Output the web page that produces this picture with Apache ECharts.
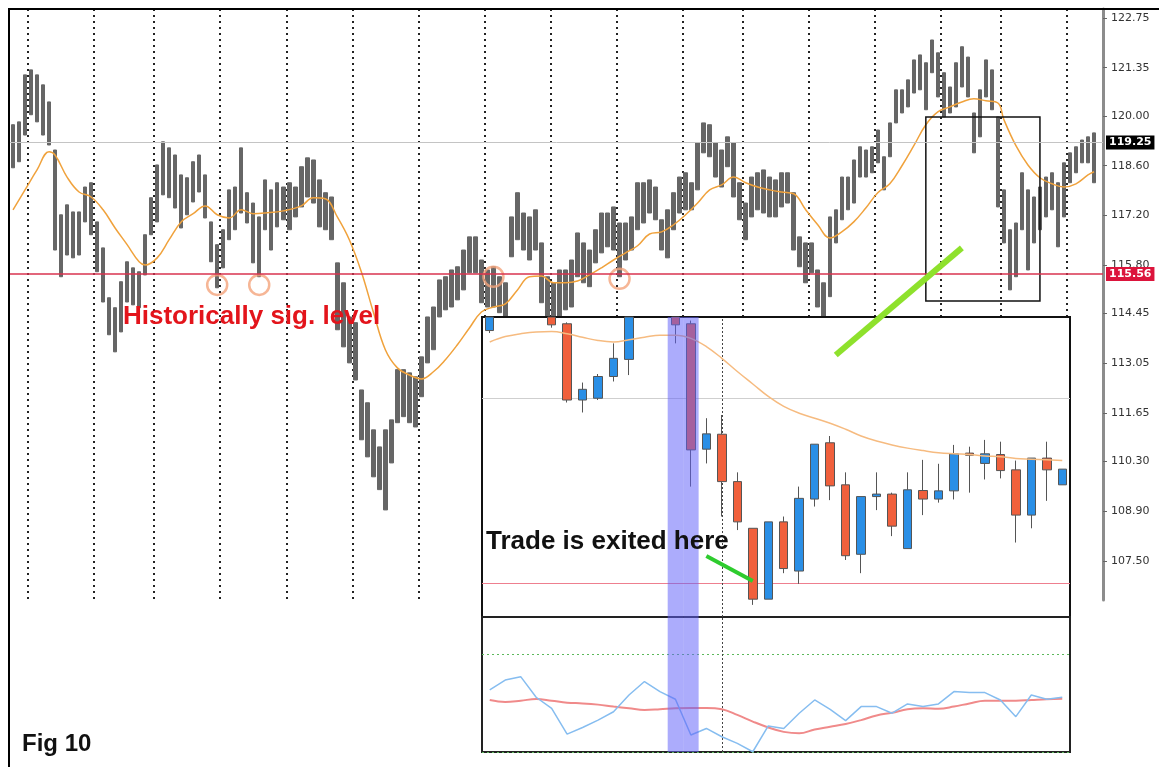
<!DOCTYPE html>
<html>
<head>
<meta charset="utf-8">
<script src="https://cdn.jsdelivr.net/npm/echarts@6/dist/echarts.min.js"></script>
<style>
  html, body { margin: 0; padding: 0; background: #fff; }
  #chart { width: 1159px; height: 767px; }
</style>
</head>
<body>
<div id="chart"></div>
<script>
// ---- main chart (grey bars): high / low per bar ----
const mainHigh = [
  119.75, 119.83, 121.15, 121.29, 121.15, 120.87, 120.39, 119.04, 117.22, 117.50,
  117.30, 117.30, 118.00, 118.12, 117.02, 116.29, 114.89, 114.61, 115.34, 115.90,
  115.73, 115.62, 116.66, 117.70, 118.62, 119.27, 119.10, 118.90, 118.34, 118.26,
  118.71, 118.90, 118.34, 117.02, 116.38, 116.80, 117.92, 118.00, 119.10, 117.84,
  117.55, 117.16, 118.20, 117.92, 118.12, 118.00, 118.12, 118.00, 118.57, 118.82,
  118.76, 118.20, 117.84, 117.72, 115.87, 115.31, 114.35, 114.19, 112.30, 111.94,
  111.18, 110.70, 111.18, 111.46, 112.87, 112.87, 112.78, 112.67, 113.23, 114.35,
  114.63, 115.39, 115.48, 115.67, 115.76, 116.23, 116.60, 116.60, 115.95, 115.67,
  115.76, 115.48, 115.31, 117.16, 117.84, 117.27, 117.16, 117.36, 116.43, 115.48,
  115.31, 115.67, 115.67, 115.95, 116.71, 116.43, 116.23, 116.80, 117.27, 117.27,
  117.44, 116.99, 116.99, 117.16, 118.12, 118.12, 118.20, 118.00, 117.08, 117.36,
  117.84, 118.28, 118.40, 118.12, 119.24, 119.80, 119.75, 119.24, 119.04, 119.41,
  119.24, 118.12, 117.55, 118.28, 118.40, 118.48, 118.28, 118.20, 118.40, 118.40,
  117.84, 116.60, 116.43, 116.43, 115.67, 115.31, 117.16, 117.36, 118.28, 118.28,
  118.76, 119.13, 119.04, 119.13, 119.60, 118.85, 119.80, 120.73, 120.73, 121.01,
  121.57, 121.71, 121.49, 122.13, 121.77, 121.21, 120.81, 121.49, 121.94, 121.65,
  120.08, 120.73, 121.57, 121.29, 119.97, 117.92, 116.80, 116.99, 118.40, 117.92,
  117.72, 118.00, 118.28, 118.40, 118.12, 118.68, 118.96, 119.13, 119.32, 119.41,
  119.52
];
const mainLow = [
  118.54, 118.71, 119.46, 120.03, 119.83, 119.46, 119.18, 116.23, 115.48, 116.09,
  116.01, 116.09, 117.02, 116.66, 115.62, 114.77, 113.85, 113.37, 113.93, 114.77,
  114.69, 114.61, 115.53, 116.66, 117.02, 117.78, 117.70, 117.41, 116.85, 117.22,
  117.58, 117.86, 117.13, 115.90, 115.17, 115.73, 116.52, 116.80, 117.27, 116.99,
  115.87, 115.48, 116.80, 116.23, 116.88, 117.08, 116.80, 117.16, 117.44, 117.72,
  117.55, 116.88, 116.80, 116.52, 113.99, 113.51, 113.06, 112.58, 110.90, 110.42,
  109.86, 109.50, 108.93, 110.25, 111.38, 111.55, 111.38, 111.26, 112.11, 113.06,
  113.43, 114.35, 114.55, 114.63, 114.83, 115.11, 115.59, 115.59, 114.75, 114.63,
  114.63, 114.47, 114.35, 116.04, 116.52, 116.23, 115.95, 116.23, 114.75, 114.19,
  114.19, 114.35, 114.55, 114.63, 115.48, 115.31, 115.20, 115.87, 116.15, 116.32,
  116.23, 115.48, 115.95, 116.23, 116.80, 116.99, 117.27, 117.08, 116.23, 116.01,
  116.80, 117.27, 117.36, 117.36, 117.92, 118.96, 118.85, 118.28, 118.00, 118.57,
  117.72, 117.08, 116.52, 117.16, 117.36, 117.27, 117.16, 117.16, 117.44, 117.55,
  116.23, 115.76, 115.31, 115.59, 114.63, 114.35, 114.92, 116.43, 117.08, 117.36,
  117.55, 118.28, 118.28, 118.40, 118.68, 117.92, 118.85, 119.80, 120.08, 120.25,
  120.64, 120.73, 120.17, 121.21, 120.53, 119.97, 120.08, 120.25, 120.81, 120.53,
  118.96, 119.41, 120.53, 120.17, 117.44, 116.43, 115.11, 115.48, 116.80, 115.67,
  116.43, 116.80, 117.16, 117.36, 116.32, 117.16, 118.12, 118.40, 118.68, 118.68,
  118.12
];
// moving average on the main chart: [bar index, value]
const mainMA = [
  [0, 117.36], [2, 117.92], [4, 118.48], [6, 118.99], [7, 118.90], [9, 118.28], [11, 117.86],
  [13, 117.72], [15, 117.36], [17, 116.85], [19, 116.38], [21, 115.90], [22, 115.81], [24, 116.01],
  [26, 116.52], [28, 117.02], [30, 117.25], [32, 117.47], [34, 117.22], [36, 117.13], [38, 117.36],
  [40, 117.25], [42, 117.27], [45, 117.33], [48, 117.47], [50, 117.70], [52, 117.67], [54, 117.16],
  [56, 116.52], [58, 115.62], [60, 114.49], [62, 113.43], [64, 112.92], [66, 112.72], [68, 112.61],
  [70, 112.81], [72, 113.15], [74, 113.57], [76, 114.04], [78, 114.49], [80, 114.63], [82, 114.72],
  [84, 115.11], [86, 115.48], [88, 115.50], [90, 115.31], [92, 115.31], [94, 115.36], [96, 115.53],
  [98, 115.73], [100, 115.95], [102, 116.15], [104, 116.35], [106, 116.68], [108, 116.74],
  [110, 116.94], [112, 117.22], [114, 117.55], [116, 117.92], [118, 118.06], [120, 118.28],
  [122, 118.12], [124, 118.00], [126, 117.92], [128, 117.86], [130, 117.81], [132, 117.36],
  [134, 116.94], [136, 116.57], [138, 116.74], [140, 117.02], [142, 117.41], [144, 117.84],
  [146, 118.09], [148, 118.59], [150, 119.16], [152, 119.75], [154, 120.11], [156, 120.25],
  [158, 120.39], [160, 120.48], [162, 120.42], [164, 120.36], [165, 119.89], [167, 119.16],
  [169, 118.62], [171, 118.26], [173, 118.09], [175, 118.00], [177, 118.09], [179, 118.34],
  [180, 118.43]
];
const yTicks = [107.50, 108.90, 110.30, 111.65, 113.05, 114.45, 115.80, 117.20, 118.60, 120.00, 121.35, 122.75];
const sessionBreaks = [3, 14, 24, 35, 46, 57, 68, 79, 90, 101, 112, 122, 133, 144, 155, 165, 176];
const lastPrice = 119.25;
const keyLevel = 115.56;
const touches = [[34, 115.25], [41, 115.25], [80, 115.48], [101, 115.42]];
const boxFrom = [152, 119.97];
const boxTo = [171, 114.80];
const arrowFrom = [137, 113.28];
const arrowTo = [158, 116.29];

// ---- inset: candles [open, close, low, high]; '-' = above the panel ----
const insetCandles = [
  [113.97, 114.35, 113.90, 114.35], '-', '-', '-',
  [114.35, 114.13, 114.05, 114.35],
  [114.16, 112.02, 111.95, 114.20],
  [112.02, 112.32, 111.67, 112.51],
  [112.07, 112.68, 112.02, 112.75],
  [112.68, 113.19, 112.54, 113.61],
  [113.16, 114.35, 112.72, 114.35], '-', '-',
  [114.35, 114.13, 113.61, 114.35],
  [114.16, 110.62, 109.59, 114.25],
  [110.64, 111.07, 110.24, 111.51],
  [111.06, 109.73, 108.75, 111.60],
  [109.73, 108.60, 108.37, 109.99],
  [108.42, 106.43, 106.27, 108.42],
  [106.43, 108.60, 106.43, 108.60],
  [108.60, 107.29, 107.16, 108.75],
  [107.22, 109.26, 106.86, 109.59],
  [109.24, 110.78, 109.03, 110.78],
  [110.82, 109.61, 109.21, 111.01],
  [109.64, 107.65, 107.53, 109.99],
  [107.69, 109.31, 107.16, 109.31],
  [109.31, 109.38, 108.93, 109.99],
  [109.38, 108.48, 108.20, 109.42],
  [107.85, 109.50, 107.85, 109.99],
  [109.48, 109.24, 108.79, 110.34],
  [109.24, 109.47, 109.14, 110.23],
  [109.47, 110.51, 109.23, 110.76],
  [110.53, 110.47, 109.42, 110.71],
  [110.24, 110.51, 109.79, 110.90],
  [110.49, 110.04, 109.82, 110.85],
  [110.06, 108.79, 108.02, 110.32],
  [108.79, 110.39, 108.42, 110.39],
  [110.39, 110.06, 109.19, 110.85],
  [109.64, 110.08, 109.64, 110.08]
];
const insetMA = [
  113.65, 113.80, 113.88, 113.93, 113.94, 113.88, 113.78, 113.69, 113.65, 113.71,
  113.78, 113.84, 113.84, 113.75, 113.52, 113.19, 112.82, 112.47, 112.12, 111.84,
  111.65, 111.51, 111.37, 111.20, 111.01, 110.87, 110.76, 110.67, 110.60, 110.54,
  110.51, 110.49, 110.45, 110.43, 110.38, 110.36, 110.34, 110.32
];
const insetGrey = 112.07;
const insetPink = 106.87;
const exitBar = 15;
const shadeBars = [12, 13];
const exitArrowFrom = [14, 107.64];
const exitArrowTo = [17, 106.94];
// oscillator pane
const oscFast = [
  55.3, 59.3, 60.7, 52.3, 47.8, 37.3, 40.0, 43.0, 46.4, 53.2,
  58.7, 54.6, 51.5, 36.9, 39.6, 36.2, 33.5, 30.1, 40.6, 39.6,
  45.8, 51.2, 47.4, 42.8, 48.5, 48.5, 45.8, 49.6, 48.5, 49.6,
  54.6, 54.2, 54.2, 51.2, 44.4, 53.2, 51.5, 52.3
];
const oscSlow = [
  51.2, 50.4, 50.9, 51.6, 50.9, 50.1, 49.8, 49.3, 48.5, 47.8,
  47.1, 47.4, 47.8, 47.9, 47.9, 47.4, 45.1, 42.4, 40.0, 38.2,
  37.6, 39.2, 40.3, 41.4, 43.0, 44.9, 46.0, 47.4, 47.8, 47.6,
  48.5, 49.8, 50.9, 50.9, 50.9, 51.2, 51.5, 51.7
];
const oscLevels = [70, 30];

const mainSlots = mainHigh.map((_, i) => i).concat([mainHigh.length]);
const insetSlots = insetCandles.map((_, i) => i);
const FONT = '"Liberation Sans", Arial, sans-serif';

const chart = echarts.init(document.getElementById('chart'));

const hidden = { show: false };

// shaded exit bars: full-width band over the whole pane height
function shadeItem(params, api) {
  const cs = params.coordSys;
  const x = api.coord([api.value(0), 0])[0];
  const w = api.size([1, 0])[0];
  return {
    type: 'rect',
    shape: { x: x - w / 2, y: cs.y, width: w, height: cs.height },
    style: { fill: 'rgba(96,96,250,0.52)' }
  };
}
function shadeSeries(xi, yi) {
  return {
    type: 'custom', xAxisIndex: xi, yAxisIndex: yi, z: 20, silent: true,
    renderItem: shadeItem,
    encode: { x: 0 },
    data: shadeBars.map(b => [b])
  };
}

chart.setOption({
  animation: false,
  backgroundColor: '#fff',
  grid: [
    { left: 10, top: 9, width: 1093, height: 591 },
    { left: 482, top: 317, width: 588, height: 300, show: true, backgroundColor: '#fff', borderColor: '#111', borderWidth: 2, z: 8 },
    { left: 482, top: 617, width: 588, height: 135, show: true, backgroundColor: '#fff', borderColor: '#222', borderWidth: 2, z: 8 }
  ],
  xAxis: [
    {
      type: 'category', gridIndex: 0, data: mainSlots,
      axisLine: hidden, axisTick: hidden, axisLabel: hidden,
      splitLine: { show: true, interval: i => sessionBreaks.includes(i), lineStyle: { color: '#222', width: 2, type: [2, 4] } }
    },
    { type: 'category', gridIndex: 1, data: insetSlots, show: false },
    { type: 'category', gridIndex: 2, data: insetSlots, show: false }
  ],
  yAxis: [
    {
      type: 'value', gridIndex: 0, position: 'right', min: 106.40, max: 123.00,
      axisLine: { show: true, lineStyle: { color: '#8c8c8c', width: 3 } },
      axisTick: { show: true, customValues: yTicks, length: 4, lineStyle: { color: '#666' } },
      axisLabel: { customValues: yTicks, formatter: v => v.toFixed(2), color: '#333', fontSize: 11, fontFamily: '"DejaVu Sans", sans-serif', margin: 8 },
      splitLine: hidden
    },
    { type: 'value', gridIndex: 1, min: 105.93, max: 114.35, show: false },
    { type: 'value', gridIndex: 2, min: 30, max: 85, show: false }
  ],
  series: [
    {
      name: 'price', type: 'candlestick', xAxisIndex: 0, yAxisIndex: 0, z: 2,
      barWidth: 4,
      data: mainHigh.map((h, i) => [h, mainLow[i], mainLow[i], h]),
      itemStyle: { color: '#666', color0: '#666', borderColor: '#666', borderColor0: '#666', borderWidth: 1 },
      markLine: {
        silent: true, symbol: 'none', z: 5,
        label: { position: 'end', distance: 3, color: '#fff', fontSize: 11, fontWeight: 'bold', fontFamily: '"DejaVu Sans", sans-serif', padding: [2, 3, 1, 3] },
        data: [
          { yAxis: lastPrice, lineStyle: { color: '#c4c4c4', width: 1, type: 'solid' }, label: { backgroundColor: '#000', formatter: lastPrice.toFixed(2) } },
          { yAxis: keyLevel, lineStyle: { color: '#d8334f', width: 1.5, type: 'solid' }, label: { backgroundColor: '#dc143c', formatter: keyLevel.toFixed(2) } }
        ]
      }
    },
    {
      name: 'ma', type: 'line', xAxisIndex: 0, yAxisIndex: 0, z: 3,
      data: mainMA, smooth: 0.4, symbol: 'none',
      lineStyle: { color: '#f0a23c', width: 1.5 },
      markArea: {
        silent: true, z: 4,
        itemStyle: { color: 'rgba(0,0,0,0)', borderColor: '#111', borderWidth: 1.5 },
        data: [[{ xAxis: boxFrom[0], yAxis: boxFrom[1] }, { xAxis: boxTo[0], yAxis: boxTo[1] }]]
      },
      markLine: {
        silent: true, symbol: 'none', z: 20,
        label: hidden,
        lineStyle: { color: '#8ee12c', width: 6, type: 'solid' },
        data: [[{ coord: arrowFrom }, { coord: arrowTo }]]
      }
    },
    {
      name: 'touches', type: 'scatter', xAxisIndex: 0, yAxisIndex: 0, z: 4,
      data: touches, symbol: 'circle', symbolSize: 20,
      itemStyle: { color: 'rgba(0,0,0,0)', borderColor: '#f4a47c', borderWidth: 2.5 }
    },
    // inset candles
    {
      name: 'inset', type: 'candlestick', xAxisIndex: 1, yAxisIndex: 1, z: 12,
      barWidth: 9,
      data: insetCandles,
      itemStyle: { color: '#2a8fe6', color0: '#f0603c', borderColor: '#555', borderColor0: '#555', borderWidth: 1 },
      markLine: {
        silent: true, symbol: 'none', z: 21, label: hidden,
        lineStyle: { color: '#2ecc2e', width: 4, type: 'solid' },
        data: [[{ coord: exitArrowFrom }, { coord: exitArrowTo }]]
      }
    },
    {
      name: 'insetMA', type: 'line', xAxisIndex: 1, yAxisIndex: 1, z: 13,
      data: insetMA, smooth: 0.4, symbol: 'none',
      lineStyle: { color: '#f6bb80', width: 1.5 },
      markLine: {
        silent: true, symbol: 'none', z: 11, label: hidden,
        data: [
          { yAxis: insetGrey, lineStyle: { color: '#cfcfcf', width: 1, type: 'solid' } },
          { yAxis: insetPink, lineStyle: { color: '#ee7f8f', width: 1, type: 'solid' } },
          { xAxis: exitBar, lineStyle: { color: '#444', width: 1, type: [2, 2] } }
        ]
      }
    },
    shadeSeries(1, 1),
    // oscillator pane
    {
      name: 'oscSlow', type: 'line', xAxisIndex: 2, yAxisIndex: 2, z: 13,
      data: oscSlow, smooth: 0.4, symbol: 'none',
      lineStyle: { color: '#f08a8a', width: 2 },
      markLine: {
        silent: true, symbol: 'none', z: 11, label: hidden,
        data: [
          { yAxis: oscLevels[0], lineStyle: { color: '#5cb85c', width: 1, type: [2, 3] } },
          { yAxis: oscLevels[1], lineStyle: { color: '#5cb85c', width: 1, type: [2, 3] } },
          { xAxis: exitBar, lineStyle: { color: '#444', width: 1, type: [2, 2] } }
        ]
      }
    },
    {
      name: 'oscFast', type: 'line', xAxisIndex: 2, yAxisIndex: 2, z: 14,
      data: oscFast, symbol: 'none',
      lineStyle: { color: '#86bdf0', width: 1.5 }
    },
    shadeSeries(2, 2)
  ],
  graphic: [
    { type: 'rect', silent: true, z: 100, shape: { x: 9, y: 9, width: 1300, height: 900 }, style: { fill: 'none', stroke: '#000', lineWidth: 2 } },
    { type: 'text', silent: true, z: 30, left: 123, top: 304, style: { text: 'Historically sig. level', fill: '#e3141b', font: 'bold 26px ' + FONT } },
    { type: 'text', silent: true, z: 30, left: 486, top: 529, style: { text: 'Trade is exited here', fill: '#111', font: 'bold 26px ' + FONT } },
    { type: 'text', silent: true, z: 30, left: 22, top: 732, style: { text: 'Fig 10', fill: '#111', font: 'bold 24px ' + FONT } }
  ]
});
</script>
</body>
</html>
